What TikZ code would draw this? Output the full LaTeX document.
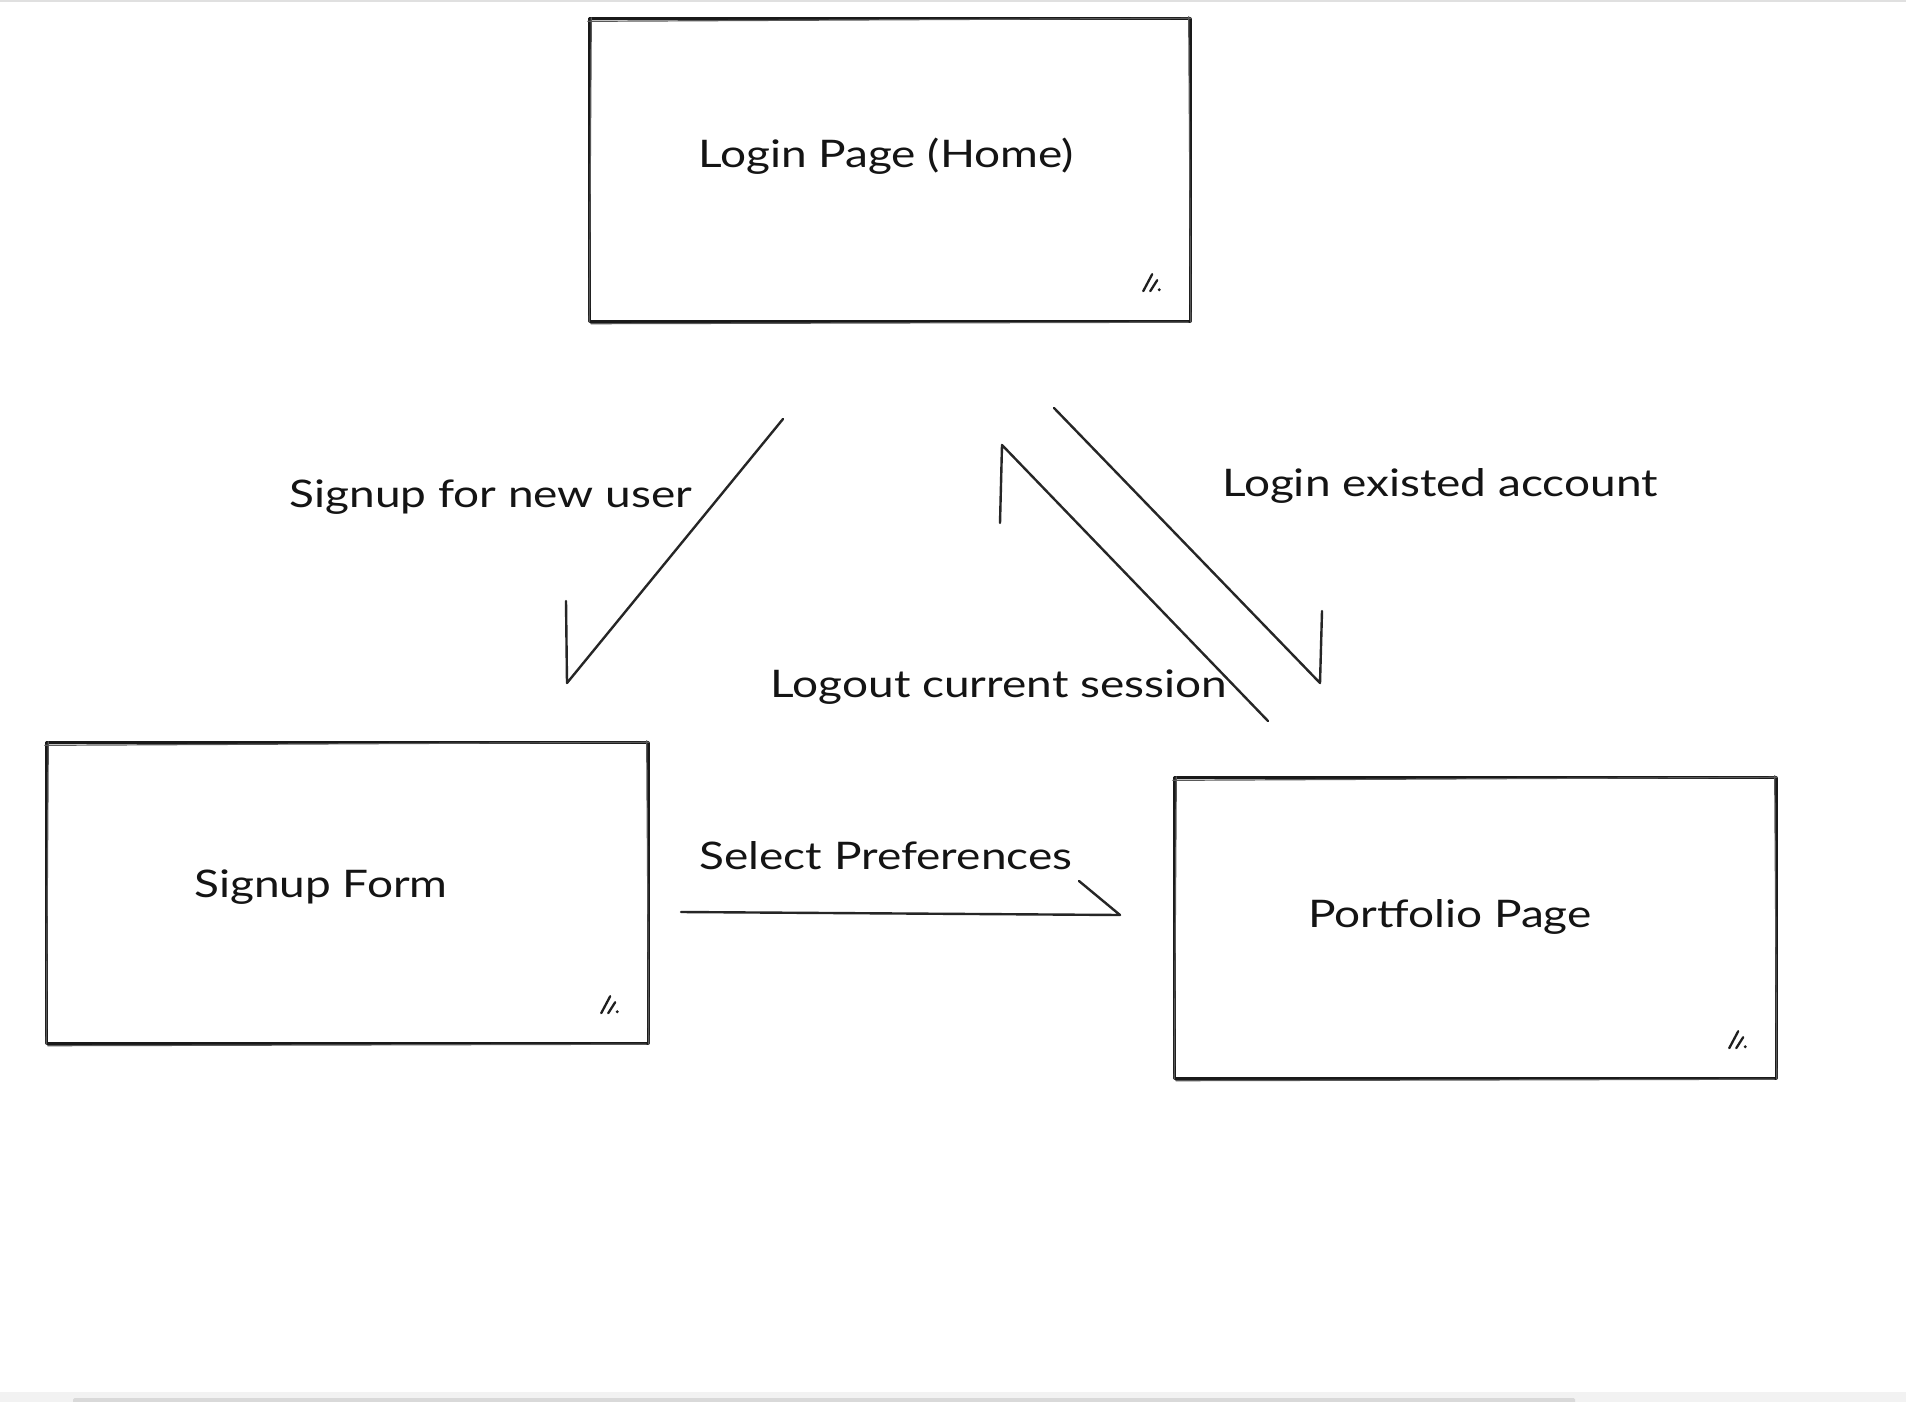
\documentclass[tikz,border=0pt]{standalone}
\usepackage{fontspec}
\setmainfont{Lato}[FakeStretch=1.21]
\begin{document}
\begin{tikzpicture}[x=1pt,y=-1pt,
  ink/.style={draw=black!90, line width=2.8pt, line cap=round, line join=round},
  inkthin/.style={draw=black!65, line width=1.2pt, line cap=round},
  arrowline/.style={draw=black!85, line width=2.4pt, line cap=round, line join=round},
  gripline/.style={draw=black!88, line width=2.3pt, line cap=round},
  lbl/.style={inner sep=0pt, text=black!92, font=\fontsize{38}{44}\selectfont},
  pagebox/.style={inner sep=0pt}]
% canvas and window chrome
\fill[white] (0,0) rectangle (1906,1402);
\useasboundingbox (0,0) rectangle (1906,1402);
\fill[black!12] (0,0) rectangle (1906,2.5);
\fill[black!5] (0,1392) rectangle (1906,1402);
\fill[black!15, rounded corners=1.5pt] (73,1398) rectangle (1575,1404);

% page boxes (hand-drawn style: main stroke plus a light second pass)
\node[pagebox, minimum width=600pt, minimum height=302pt] (login) at (890,170) {};
\node[pagebox, minimum width=601pt, minimum height=300pt] (signup) at (347.5,893) {};
\node[pagebox, minimum width=601pt, minimum height=300pt] (portfolio) at (1475.5,928) {};

\foreach \b in {login,signup,portfolio}{
  \draw[ink] (\b.north west) -- (\b.north east) -- (\b.south east) -- (\b.south west) -- cycle;
  \draw[inkthin] ([shift={(-2,2.5)}]\b.north west) -- ([shift={(1,-0.5)}]\b.north east);
  \draw[inkthin] ([shift={(1,2.5)}]\b.south west) -- ([shift={(-2,1)}]\b.south east);
  \draw[inkthin] ([shift={(1.5,-1)}]\b.north west) -- ([shift={(-0.5,1)}]\b.south west);
  \draw[inkthin] ([shift={(-1.5,-2)}]\b.north east) -- ([shift={(0.5,1)}]\b.south east);
  % resize grip in the corner
  \draw[gripline] ([shift={(-47,-30)}]\b.south east) -- ([shift={(-38,-47)}]\b.south east);
  \draw[gripline] ([shift={(-40,-30)}]\b.south east) -- ([shift={(-33,-41)}]\b.south east);
  \fill[black!88] ([shift={(-31,-31.5)}]\b.south east) circle (1.6pt);
}

% page titles
\node[lbl] (loginT) at (886,156) {Login Page (Home)};
\node[lbl] (signupT) at (321,887) {Signup Form};
\node[lbl] (portT) at (1450,917) {Portfolio Page};

% connector end points
\coordinate (suA) at (783,419);
\coordinate (suB) at (567,683);
\coordinate (suH) at (566,601);

\coordinate (liA) at (1054,408);
\coordinate (liB) at (1320,683);
\coordinate (liH) at (1322,611);

\coordinate (loA) at (1268,721);
\coordinate (loB) at (1002,445);
\coordinate (loH) at (1000,523);

\coordinate (spA) at (681,912);
\coordinate (spB) at (1120,915);
\coordinate (spH) at (1079,881);

% connectors with single-barb heads
\draw[arrowline] (suA) -- (suB) -- (suH);
\draw[arrowline] (liA) -- (liB) -- (liH);
\draw[arrowline] (loA) -- (loB) -- (loH);
\draw[arrowline] (spA) -- (spB) -- (spH);

% connector labels
\node[lbl] (suL) at (491,497) {Signup for new user};
\node[lbl] (liL) at (1440,486) {Login existed account};
\node[lbl] (loL) at (999,687) {Logout current session};
\node[lbl] (spL) at (886,856) {Select Preferences};
\end{tikzpicture}
\end{document}
